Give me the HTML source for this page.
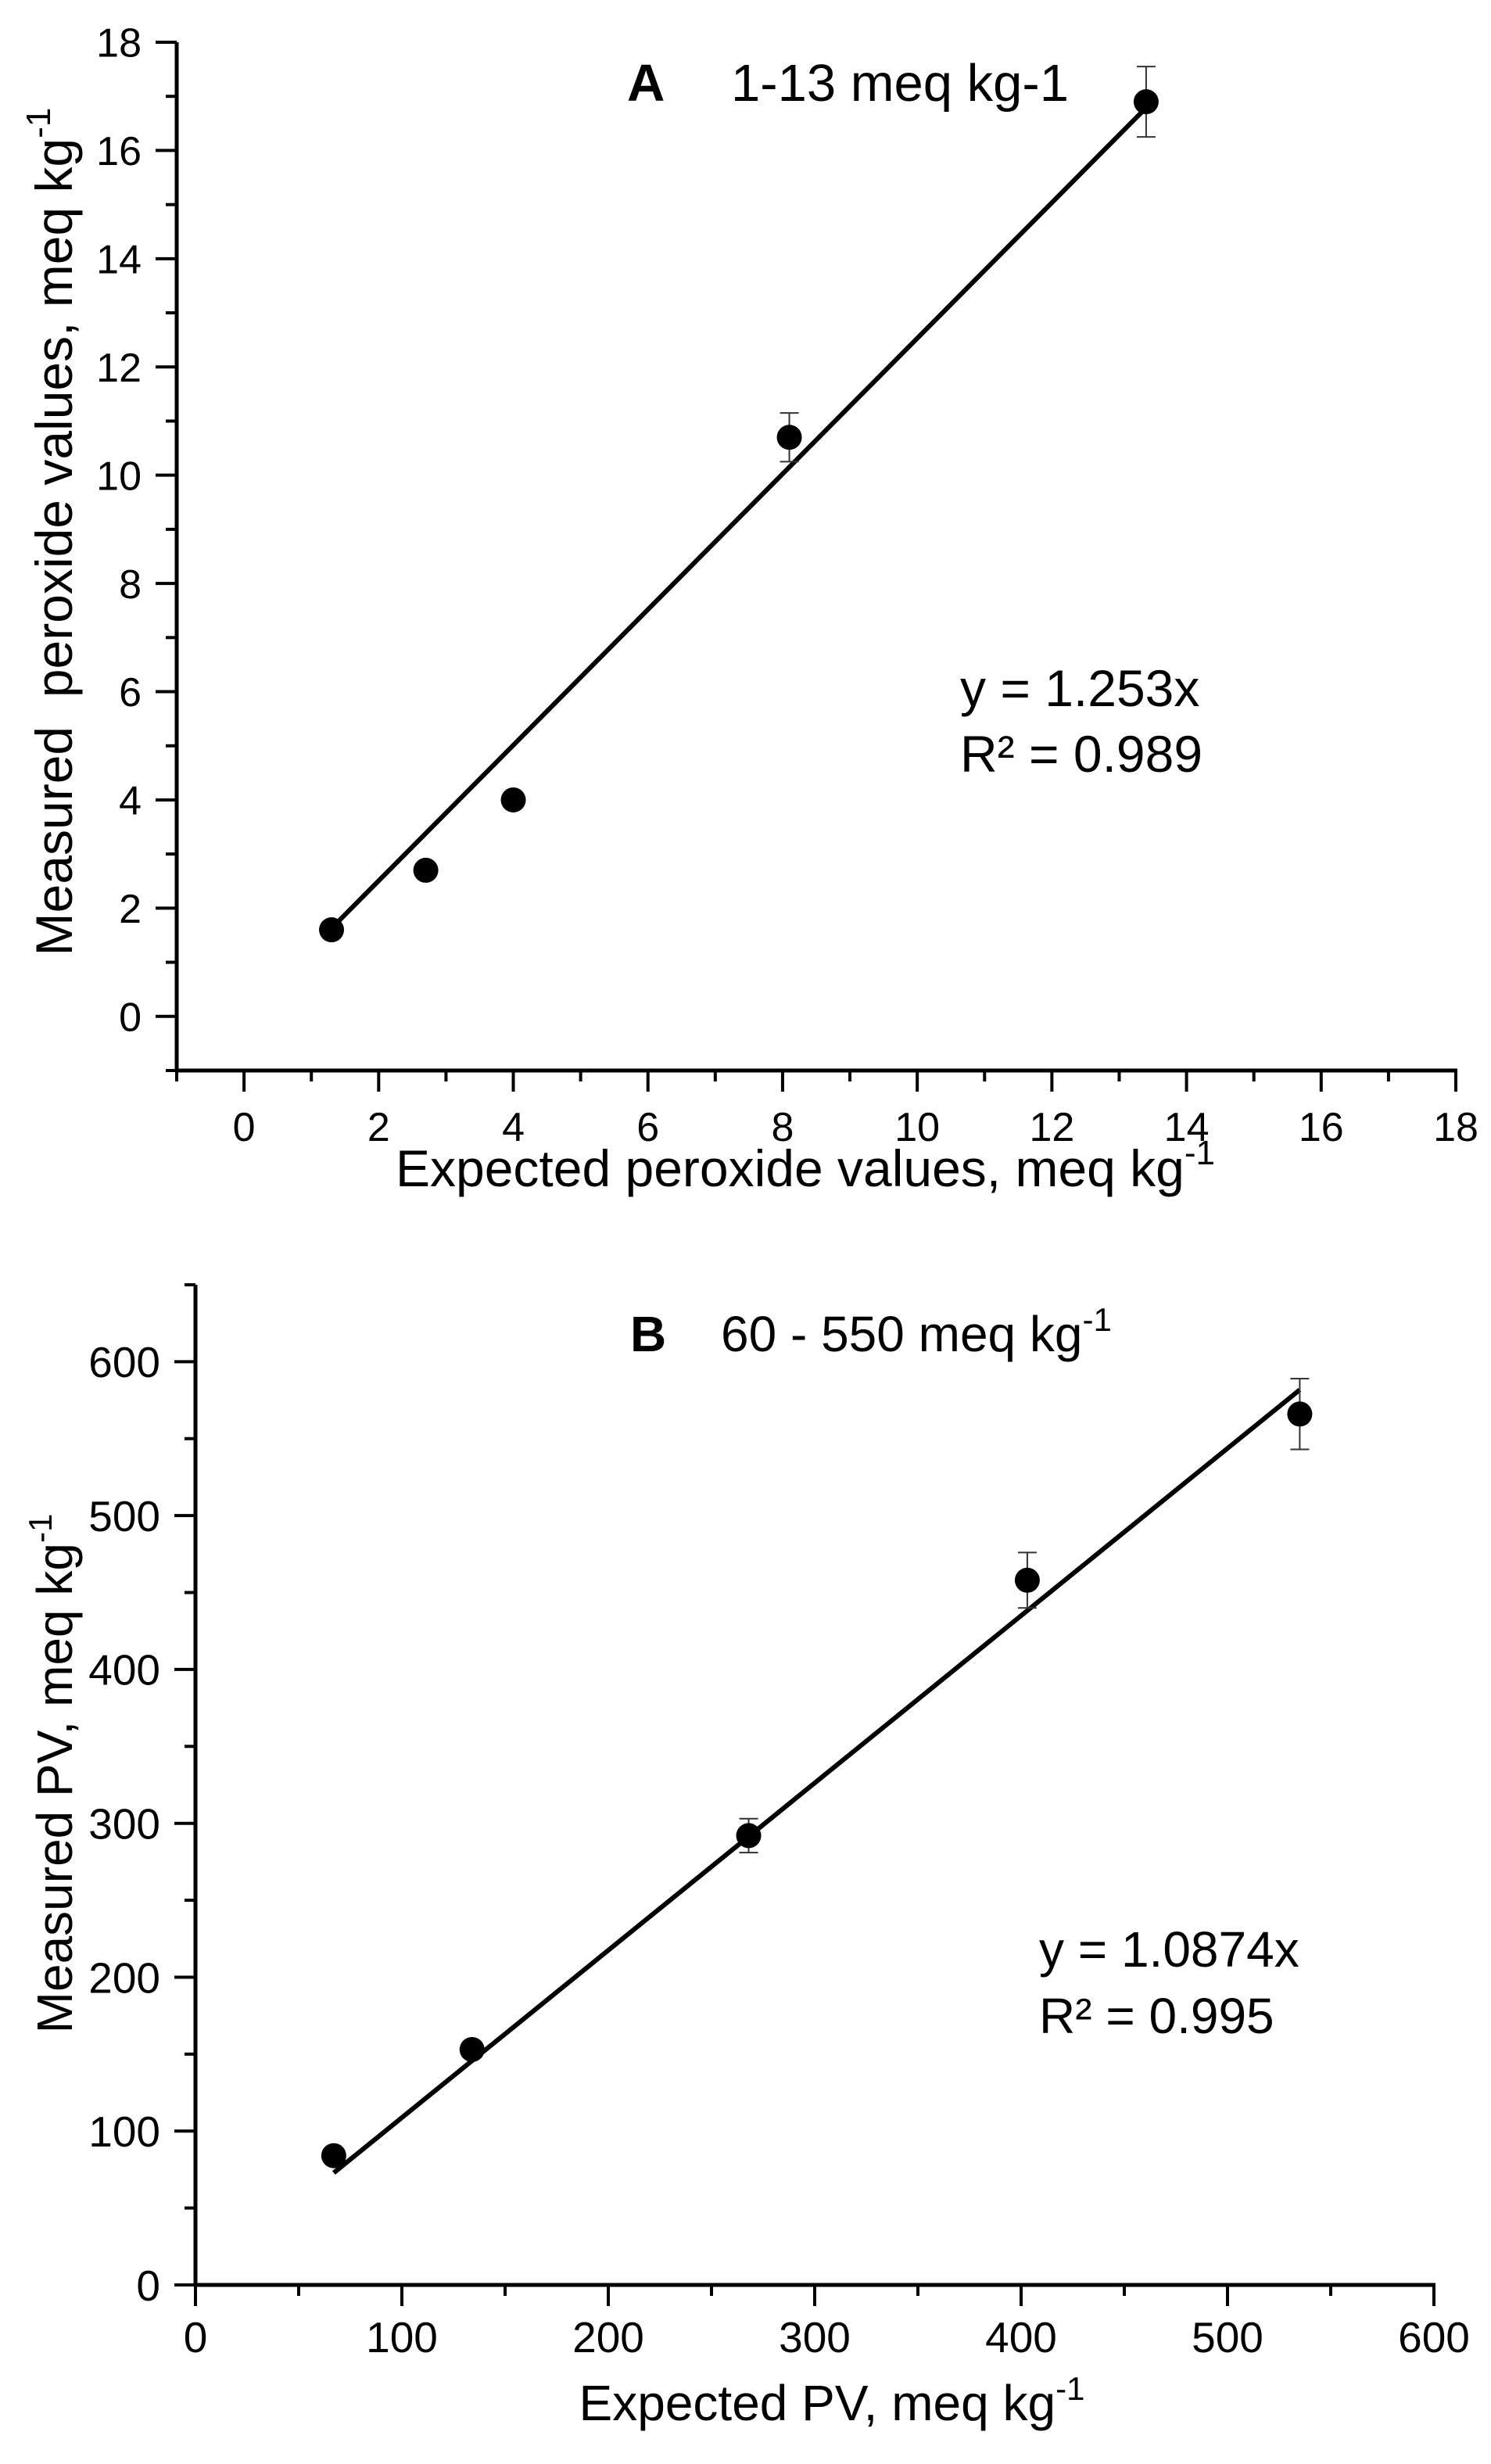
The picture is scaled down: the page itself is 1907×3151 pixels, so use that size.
<!DOCTYPE html>
<html>
<head>
<meta charset="utf-8">
<style>
  html,body{margin:0;padding:0;background:#fff;}
  svg{display:block;}
  text{font-family:"Liberation Sans",Arial,sans-serif;fill:#000;}
</style>
</head>
<body>
<svg id="chart" width="1907" height="3151" viewBox="0 0 1907 3151" xmlns="http://www.w3.org/2000/svg">
  <rect x="0" y="0" width="1907" height="3151" fill="#fff"/>
  <g id="panelA"></g>
  <g id="panelB"></g>
</svg>
<script>
// ---- Panel A data ----
const aExpected = [1.3, 2.7, 4.0, 8.1, 13.4];
const aMeasured = [1.6, 2.7, 4.0, 10.7, 16.9];
const aError = [0, 0, 0, 0.45, 0.65];
const aSlope = 1.253;
const aXTicks = [0, 2, 4, 6, 8, 10, 12, 14, 16, 18];
const aYTicks = [0, 2, 4, 6, 8, 10, 12, 14, 16, 18];

// ---- Panel B data ----
const bExpected = [67, 134, 268, 403, 535];
const bMeasured = [84, 153, 292, 458, 566];
const bError = [0, 5, 11, 18, 23];
const bSlope = 1.0874;
const bXTicks = [0, 100, 200, 300, 400, 500, 600];
const bYTicks = [0, 100, 200, 300, 400, 500, 600];

const NS = "http://www.w3.org/2000/svg";
function mk(parent, tag, attrs, txt){
  const e = document.createElementNS(NS, tag);
  for (const k in attrs) e.setAttribute(k, attrs[k]);
  if (txt !== undefined) e.textContent = txt;
  parent.appendChild(e);
  return e;
}

function drawPanel(g, cfg){
  const X = v => cfg.x0 + (v - cfg.xmin) / (cfg.xmax - cfg.xmin) * (cfg.x1 - cfg.x0);
  const Y = v => cfg.y0 - (v - cfg.ymin) / (cfg.ymax - cfg.ymin) * (cfg.y0 - cfg.y1);
  const xa = mk(g, 'line', {x1: cfg.x0-2, y1: cfg.y0, x2: cfg.x1+2, y2: cfg.y0, stroke:'#000','stroke-width':5});
  
  
  const ya = mk(g, 'line', {x1: cfg.x0, y1: cfg.y0+2, x2: cfg.x0, y2: cfg.y1, stroke:'#000','stroke-width':5});
  
  
  for (let v = cfg.xmin; v <= cfg.xmax + 1e-9; v += cfg.xMinor){
    const major = cfg.xTicks.some(t => Math.abs(t - v) < 1e-9);
    const t = mk(g, 'line', {x1: X(v), y1: cfg.y0, x2: X(v), y2: cfg.y0 + (major ? 27 : 14), stroke:'#000','stroke-width':4});
    
    
  }
  cfg.xTicks.forEach(v => {
    const t = mk(g, 'text', {x: X(v), y: cfg.y0 + cfg.xLabOff, 'font-size': cfg.tickFs, 'text-anchor':'middle'}, String(v));
    
    
  });
  for (let v = cfg.ymin; v <= cfg.ymax + 1e-9; v += cfg.yMinor){
    const major = cfg.yTicks.some(t => Math.abs(t - v) < 1e-9);
    const t = mk(g, 'line', {x1: cfg.x0, y1: Y(v), x2: cfg.x0 - (major ? 27 : 14), y2: Y(v), stroke:'#000','stroke-width':4});
    
    
  }
  cfg.yTicks.forEach(v => {
    const t = mk(g, 'text', {x: cfg.x0 - 45, y: Y(v) + cfg.tickFs*0.36, 'font-size': cfg.tickFs, 'text-anchor':'end'}, String(v));
    
    
  });
  const xs = cfg.xs, ys = cfg.ys, es = cfg.es;
  const xf0 = xs[0], xf1 = xs[xs.length-1];
  const fl = mk(g, 'line', {x1: X(xf0), y1: Y(cfg.slope*xf0), x2: X(xf1), y2: Y(cfg.slope*xf1), stroke:'#000','stroke-width':6});
  
  
  for (let i = 0; i < xs.length; i++){
    if (es[i] > 0){
      const eb = mk(g, 'path', {d: `M${X(xs[i])-12},${Y(ys[i]+es[i])}H${X(xs[i])+12}M${X(xs[i])},${Y(ys[i]+es[i])}V${Y(ys[i]-es[i])}M${X(xs[i])-12},${Y(ys[i]-es[i])}H${X(xs[i])+12}`, stroke:'#333','stroke-width':2, fill:'none'});
      
      
    }
    const c = mk(g, 'circle', {cx: X(xs[i]), cy: Y(ys[i]), r: 16, fill:'#000'});
    
    
  }
}

const gA = document.getElementById('panelA');
drawPanel(gA, {id:'a', x0:226, x1:1862, xmin:-1, xmax:18, y0:1369, y1:54, ymin:-1, ymax:18,
  xMinor:1, yMinor:1, xTicks:aXTicks, yTicks:aYTicks, tickFs:52, xLabOff:90,
  xs:aExpected, ys:aMeasured, es:aError, slope:aSlope});
const gB = document.getElementById('panelB');
drawPanel(gB, {id:'b', x0:250, x1:1834, xmin:0, xmax:600, y0:2922, y1:1643, ymin:0, ymax:650,
  xMinor:50, yMinor:50, xTicks:bXTicks, yTicks:bYTicks, tickFs:55, xLabOff:86,
  xs:bExpected, ys:bMeasured, es:bError, slope:bSlope});
</script>

<svg style="position:absolute;left:0;top:0" width="1907" height="3151">
  <text x="802" y="129" font-size="67" font-family="Liberation Sans, sans-serif"><tspan font-weight="bold">A</tspan><tspan x="935">1-13 meq kg-1</tspan></text>
  <text x="1228" y="903" font-size="66" font-family="Liberation Sans, sans-serif">y = 1.253x</text>
  <text x="1228" y="987" font-size="66" font-family="Liberation Sans, sans-serif">R² = 0.989</text>
  <text x="1030" y="1517" font-size="66" text-anchor="middle" font-family="Liberation Sans, sans-serif">Expected peroxide values, meq kg<tspan font-size="44" dy="-28">-1</tspan></text>
  <text transform="translate(92,680) rotate(-90)" font-size="66" text-anchor="middle" font-family="Liberation Sans, sans-serif" xml:space="preserve">Measured  peroxide values, meq kg<tspan font-size="44" dy="-28">-1</tspan></text>

  <text x="806" y="1728" font-size="64" font-family="Liberation Sans, sans-serif"><tspan font-weight="bold">B</tspan><tspan x="922">60 - 550 meq kg</tspan><tspan font-size="42" dy="-26">-1</tspan></text>
  <text x="1329" y="2515" font-size="64" font-family="Liberation Sans, sans-serif">y = 1.0874x</text>
  <text x="1329" y="2600" font-size="64" font-family="Liberation Sans, sans-serif">R² = 0.995</text>
  <text x="1064" y="3095" font-size="64" text-anchor="middle" font-family="Liberation Sans, sans-serif">Expected PV, meq kg<tspan font-size="42" dy="-26">-1</tspan></text>
  <text transform="translate(92,2268) rotate(-90)" font-size="64" text-anchor="middle" font-family="Liberation Sans, sans-serif">Measured PV, meq kg<tspan font-size="42" dy="-26">-1</tspan></text>
</svg>
</body>
</html>
